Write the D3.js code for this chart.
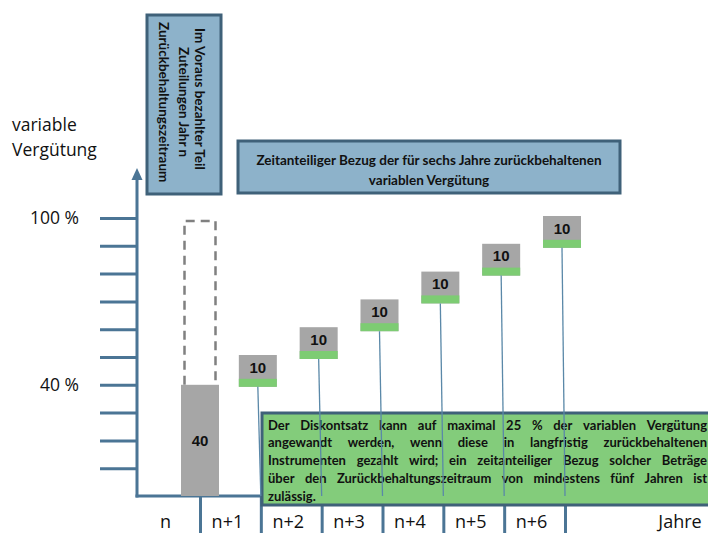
<!DOCTYPE html>
<html>
<head>
<meta charset="utf-8">
<script src="https://cdn.jsdelivr.net/npm/d3@7"></script>
<style>
  body { margin: 0; background: #fff; }
  svg { display: block; }
</style>
</head>
<body>
<svg id="chart" width="708" height="533"></svg>
<script>
// ---- data ----
const years = ["n", "n+1", "n+2", "n+3", "n+4", "n+5", "n+6"];
const shares = [40, 10, 10, 10, 10, 10, 10];      // % of variable pay released per year
const totalShare = 100;
const yTickValues = [10, 20, 30, 40, 50, 60, 70, 80, 90, 100];
const yLabelledTicks = [100, 40];
const yTitleLines = ["variable", "Vergütung"];
const xEndLabel = "Jahre";
const headerLines = ["Zeitanteiliger Bezug der für sechs Jahre zurückbehaltenen", "variablen Vergütung"];
const upfrontLines = ["Im Voraus bezahlter Teil", "Zuteilungen Jahr n", "Zurückbehaltungszeitraum"];
const noteLines = [
  "Der Diskontsatz kann auf maximal 25 % der variablen Vergütung",
  "angewandt werden, wenn diese in langfristig zurückbehaltenen",
  "Instrumenten gezahlt wird; ein zeitanteiliger Bezug solcher Beträge",
  "über den Zurückbehaltungszeitraum von mindestens fünf Jahren ist",
  "zulässig."
];

// ---- styling ----
const FONT = "'Open Sans', 'DejaVu Sans', sans-serif";
const BOX_FONT = "Lato, 'Open Sans', sans-serif";
const NUM_FONT = "'Liberation Sans', Arial, sans-serif";
const AXIS = "#4b7595";
const BOX_BORDER = "#3f6179";
const HEADER_FILL = "#8db2ca";
const NOTE_FILL = "#83cc7b";
const GRAY = "#a6a6a6";
const GREEN = "#7dcc73";
const LINK = "#5a88a8";

const svg = d3.select("#chart").style("font-family", FONT);

const x = d3.scalePoint().domain(years).range([200, 565]);
const y = d3.scaleLinear().domain([0, totalShare]).range([496, 218]);
const axisX = 137;
const barW = 38;
const cum = d3.cumsum(shares);

// helper: font size so that `text` is `target` px wide
function fitSize(text, target, family, weight, maxSize) {
  const t = svg.append("text").attr("font-family", family)
    .attr("font-size", 20).attr("font-weight", weight).text(text);
  const w = t.node().getComputedTextLength();
  t.remove();
  return Math.min(maxSize, 20 * target / w);
}

// ---- upfront (vertical) box ----
svg.append("rect")
  .attr("x", 147).attr("y", 15).attr("width", 74).attr("height", 179)
  .attr("fill", HEADER_FILL).attr("stroke", BOX_BORDER).attr("stroke-width", 3);
const upSize = fitSize(upfrontLines[2], 165, BOX_FONT, "bold", 13.5);
const upPos = [[195, 28], [179, 47], [159, 22]];
upfrontLines.forEach((line, i) => {
  const [bx, by] = upPos[i];
  svg.append("text")
    .attr("x", bx).attr("y", by)
    .attr("transform", `rotate(90,${bx},${by})`)
    .attr("font-family", BOX_FONT)
    .attr("font-size", upSize).attr("font-weight", "bold").attr("fill", "#111")
    .text(line);
});

// ---- header box ----
svg.append("rect")
  .attr("x", 238).attr("y", 141).attr("width", 382).attr("height", 52)
  .attr("fill", HEADER_FILL).attr("stroke", BOX_BORDER).attr("stroke-width", 3);
const hdSize = fitSize(headerLines[0], 358, BOX_FONT, "bold", 13.5);
headerLines.forEach((line, i) => {
  svg.append("text")
    .attr("x", 429).attr("y", 165 + i * 20)
    .attr("text-anchor", "middle")
    .attr("font-family", BOX_FONT)
    .attr("font-size", hdSize).attr("font-weight", "bold").attr("fill", "#111")
    .text(line);
});

// ---- y title ----
yTitleLines.forEach((line, i) => {
  svg.append("text")
    .attr("x", 12).attr("y", 131 + i * 25)
    .attr("font-size", 17.5).attr("fill", "#111")
    .text(line);
});

// ---- y axis ----
const yAxis = d3.axisLeft(y)
  .tickValues(yTickValues)
  .tickSize(37)
  .tickPadding(21)
  .tickFormat(d => yLabelledTicks.includes(d) ? d + " %" : "");
const yg = svg.append("g").attr("transform", `translate(${axisX},0)`).call(yAxis);
yg.select(".domain").remove();
yg.selectAll(".tick line").attr("stroke", AXIS).attr("stroke-width", 3);
yg.selectAll(".tick text")
  .attr("font-family", FONT).attr("font-size", 17.5).attr("fill", "#111");

svg.append("line")
  .attr("x1", axisX).attr("x2", axisX)
  .attr("y1", y(0) + 1.5).attr("y2", 178)
  .attr("stroke", AXIS).attr("stroke-width", 3);
svg.append("path")
  .attr("d", `M${axisX - 5.5},180 L${axisX},168 L${axisX + 5.5},180 Z`)
  .attr("fill", AXIS);

// ---- x axis: baseline + year separators ----
svg.append("line")
  .attr("x1", axisX - 1.5).attr("x2", 708)
  .attr("y1", y(0)).attr("y2", y(0))
  .attr("stroke", AXIS).attr("stroke-width", 3);
const xAxis = d3.axisBottom(x).tickSize(40).tickFormat("");
const xg = svg.append("g").attr("transform", `translate(0,${y(0)})`).call(xAxis);
xg.select(".domain").remove();
xg.selectAll(".tick line").attr("stroke", AXIS).attr("stroke-width", 3);

// ---- year n: paid upfront bar + dashed outline up to total ----
const x0 = x(years[0]);
svg.append("path")
  .attr("d", `M${x0 - 15.5},${y(shares[0])} V${y(totalShare) + 3} H${x0 + 15.5} V${y(shares[0])}`)
  .attr("fill", "none").attr("stroke", "#808080")
  .attr("stroke-width", 2.5).attr("stroke-dasharray", "9,6");
svg.append("rect")
  .attr("x", x0 - barW / 2).attr("y", y(shares[0]))
  .attr("width", barW).attr("height", y(0) - y(shares[0]))
  .attr("fill", GRAY);
svg.append("text")
  .attr("x", x0).attr("y", (y(shares[0]) + y(0)) / 2 + 6)
  .attr("text-anchor", "middle").attr("font-family", NUM_FONT)
  .attr("font-size", 15).attr("font-weight", "bold").attr("fill", "#111")
  .text(shares[0]);

// ---- deferred tranches ----
const deferred = years.slice(1).map((yr, i) => ({ year: yr, value: shares[i + 1], top: cum[i + 1] }));
const boxes = svg.append("g").selectAll("g").data(deferred).join("g");
const stripH = 8;
boxes.append("rect")
  .attr("x", d => x(d.year) - 3 - barW / 2)
  .attr("y", d => y(d.top) - 2)
  .attr("width", barW)
  .attr("height", d => y(d.top - d.value) - y(d.top) + 4)
  .attr("fill", GRAY);
boxes.append("rect")
  .attr("x", d => x(d.year) - 3 - barW / 2)
  .attr("y", d => y(d.top - d.value) + 2 - stripH)
  .attr("width", barW)
  .attr("height", stripH)
  .attr("fill", GREEN);
boxes.append("text")
  .attr("x", d => x(d.year) - 3)
  .attr("y", d => y(d.top) + 15.5)
  .attr("text-anchor", "middle").attr("font-family", NUM_FONT)
  .attr("font-size", 15).attr("font-weight", "bold").attr("fill", "#111")
  .text(d => d.value);

// ---- note box ----
svg.append("rect")
  .attr("x", 262).attr("y", 413).attr("width", 460).attr("height", 92)
  .attr("fill", NOTE_FILL).attr("stroke", BOX_BORDER).attr("stroke-width", 3);
const noteSize = fitSize(noteLines[2], 437, BOX_FONT, "bold", 13);
const noteG = svg.append("g").attr("font-family", BOX_FONT)
  .attr("font-size", noteSize).attr("font-weight", "bold").attr("fill", "#111");
const nx0 = 268, nx1 = 707;
const spaceProbe = noteG.append("text").text("a a");
const spaceW = spaceProbe.node().getComputedTextLength();
spaceProbe.text("aa");
const spaceOnly = spaceW - spaceProbe.node().getComputedTextLength();
spaceProbe.remove();
noteLines.forEach((line, i) => {
  const words = line.split(" ");
  const nodes = words.map(w => noteG.append("text").attr("y", 429.5 + i * 17.9).text(w));
  const widths = nodes.map(n => n.node().getComputedTextLength());
  const isLast = i === noteLines.length - 1;
  const gap = isLast || words.length < 2 ? spaceOnly : (nx1 - nx0 - d3.sum(widths)) / (words.length - 1);
  let cx = nx0;
  nodes.forEach((n, j) => { n.attr("x", cx); cx += widths[j] + gap; });
});

// ---- links from each tranche down to its year ----
svg.append("g").selectAll("line").data(deferred).join("line")
  .attr("x1", d => x(d.year) - 3)
  .attr("y1", d => y(d.top - d.value) + 2)
  .attr("x2", d => x(d.year))
  .attr("y2", y(0))
  .attr("stroke", LINK).attr("stroke-width", 1.3);

// ---- year labels ----
const step = x.step();
svg.append("g").selectAll("text").data(years).join("text")
  .attr("x", (d, i) => (i === 0 ? (axisX + x(d)) / 2 : x(d) - step / 2) - 3)
  .attr("y", 528)
  .attr("text-anchor", "middle").attr("font-size", 18).attr("fill", "#111")
  .text(d => d);
svg.append("text")
  .attr("x", 680).attr("y", 528)
  .attr("text-anchor", "middle").attr("font-size", 18).attr("fill", "#111")
  .text(xEndLabel);
</script>
</body>
</html>
